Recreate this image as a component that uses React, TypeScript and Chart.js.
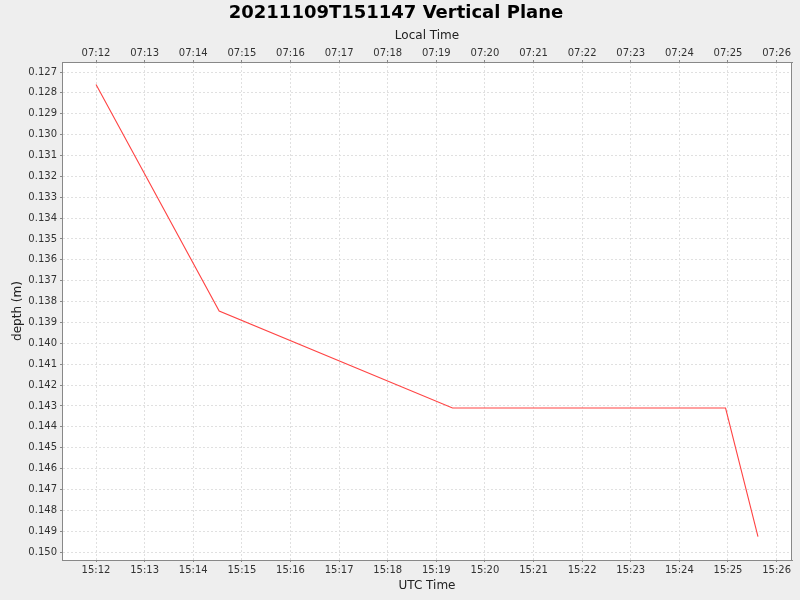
import React, { useEffect, useRef } from 'react';
import { Chart, registerables } from 'chart.js';

Chart.register(...registerables);

const chartTitle = '20211109T151147 Vertical Plane';

// samples (UTC time of day, depth in metres)
const utcTimes = ['15:12:00', '15:14:32', '15:19:20', '15:24:57', '15:25:37'];
const depths = [0.1276, 0.13845, 0.1431, 0.1431, 0.14926];

// axis ticks
const utcTicks = ['15:12', '15:13', '15:14', '15:15', '15:16', '15:17', '15:18', '15:19', '15:20', '15:21', '15:22', '15:23', '15:24', '15:25', '15:26'];
const localTicks = ['07:12', '07:13', '07:14', '07:15', '07:16', '07:17', '07:18', '07:19', '07:20', '07:21', '07:22', '07:23', '07:24', '07:25', '07:26'];
const depthTicks = [
  0.127, 0.128, 0.129, 0.13, 0.131, 0.132, 0.133, 0.134, 0.135, 0.136, 0.137, 0.138,
  0.139, 0.14, 0.141, 0.142, 0.143, 0.144, 0.145, 0.146, 0.147, 0.148, 0.149, 0.15,
];

// visible ranges
const timeRange = ['15:11:18', '15:26:19'];
const depthRange = [0.12652, 0.15038];

const toSeconds = (t: string) => {
  const [h, m, s] = t.split(':').map(Number);
  return h * 3600 + m * 60 + (s || 0);
};

const FONT = 'DejaVu Sans';

const backgroundPlugin = {
  id: 'plotBackground',
  beforeDraw(chart: any) {
    const { ctx, chartArea } = chart;
    ctx.save();
    ctx.fillStyle = '#eeeeee';
    ctx.fillRect(0, 0, chart.width, chart.height);
    ctx.fillStyle = '#ffffff';
    ctx.fillRect(chartArea.left, chartArea.top, chartArea.right - chartArea.left, chartArea.bottom - chartArea.top);
    ctx.restore();
  },
  afterDraw(chart: any) {
    const { ctx, chartArea } = chart;
    ctx.save();
    ctx.strokeStyle = '#888888';
    ctx.lineWidth = 1;
    ctx.strokeRect(chartArea.left + 0.5, chartArea.top + 0.5, chartArea.right - chartArea.left - 1, chartArea.bottom - chartArea.top);
    ctx.restore();
  },
};

const App: React.FC = () => {
  const canvasRef = useRef<HTMLCanvasElement>(null);
  const chartRef = useRef<Chart | null>(null);

  useEffect(() => {
    document.body.style.margin = '0';
    if (!canvasRef.current) return;
    if (chartRef.current) chartRef.current.destroy();

    const points = utcTimes.map((t, i) => ({ x: toSeconds(t), y: depths[i] }));
    const utcTickValues = utcTicks.map((t) => toSeconds(t));

    const tickFont = { family: FONT, size: 10 };
    const titleFont = { family: FONT, size: 12 };
    const gridColor = '#e0e0e0';

    chartRef.current = new Chart(canvasRef.current, {
      type: 'line',
      data: {
        datasets: [
          {
            data: points,
            borderColor: '#ff4444',
            borderWidth: 1.1,
            pointRadius: 0,
            tension: 0,
            xAxisID: 'x',
            yAxisID: 'y',
          },
        ],
      },
      options: {
        responsive: false,
        animation: false,
        devicePixelRatio: 1,
        layout: { padding: { left: 0, right: 8, top: 0, bottom: 0 } },
        plugins: {
          legend: { display: false },
          tooltip: { enabled: false },
          title: {
            display: true,
            text: chartTitle,
            color: '#000000',
            font: { family: FONT, size: 18, weight: 'bold' },
            padding: { top: 3, bottom: 1 },
          },
        },
        scales: {
          x: {
            type: 'linear',
            position: 'bottom',
            min: toSeconds(timeRange[0]),
            max: toSeconds(timeRange[1]),
            afterFit: (scale: any) => {
              scale.height = 40;
            },
            afterBuildTicks: (scale: any) => {
              scale.ticks = utcTickValues.map((v) => ({ value: v }));
            },
            ticks: {
              autoSkip: false,
              maxRotation: 0,
              padding: 2,
              color: '#333333',
              font: tickFont,
              callback: (_v: any, i: number) => utcTicks[i],
            },
            grid: { color: gridColor, tickColor: '#888888', tickLength: 2 },
            border: { color: '#888888', dash: [2, 2] },
            title: { display: true, text: 'UTC Time', color: '#222222', font: titleFont, padding: { top: 0, bottom: 7 } },
          },
          x2: {
            type: 'linear',
            position: 'top',
            min: toSeconds(timeRange[0]),
            max: toSeconds(timeRange[1]),
            afterFit: (scale: any) => {
              scale.height = 36.4;
            },
            afterBuildTicks: (scale: any) => {
              scale.ticks = utcTickValues.map((v) => ({ value: v }));
            },
            ticks: {
              autoSkip: false,
              maxRotation: 0,
              padding: 1,
              color: '#333333',
              font: tickFont,
              callback: (_v: any, i: number) => localTicks[i],
            },
            grid: { drawOnChartArea: false, tickColor: '#888888', tickLength: 2 },
            border: { color: '#888888' },
            title: { display: true, text: 'Local Time', color: '#222222', font: titleFont, padding: { top: 3, bottom: 0 } },
          },
          y: {
            type: 'linear',
            position: 'left',
            reverse: true,
            min: depthRange[0],
            max: depthRange[1],
            afterFit: (scale: any) => {
              scale.width = 62;
            },
            afterBuildTicks: (scale: any) => {
              scale.ticks = depthTicks.map((v) => ({ value: v }));
            },
            ticks: {
              autoSkip: false,
              padding: 3,
              color: '#333333',
              font: tickFont,
              callback: (v: any) => Number(v).toFixed(3),
            },
            grid: { color: gridColor, tickColor: '#888888', tickLength: 2 },
            border: { color: '#888888', dash: [2, 2] },
            title: { display: true, text: 'depth (m)', color: '#222222', font: titleFont, padding: { top: 11, bottom: 0 } },
          },
        },
      },
      plugins: [backgroundPlugin],
    } as any);

    return () => {
      if (chartRef.current) {
        chartRef.current.destroy();
        chartRef.current = null;
      }
    };
  }, []);

  return (
    <div style={{ width: 800, height: 600 }}>
      <canvas ref={canvasRef} width={800} height={600}></canvas>
    </div>
  );
};

export default App;
